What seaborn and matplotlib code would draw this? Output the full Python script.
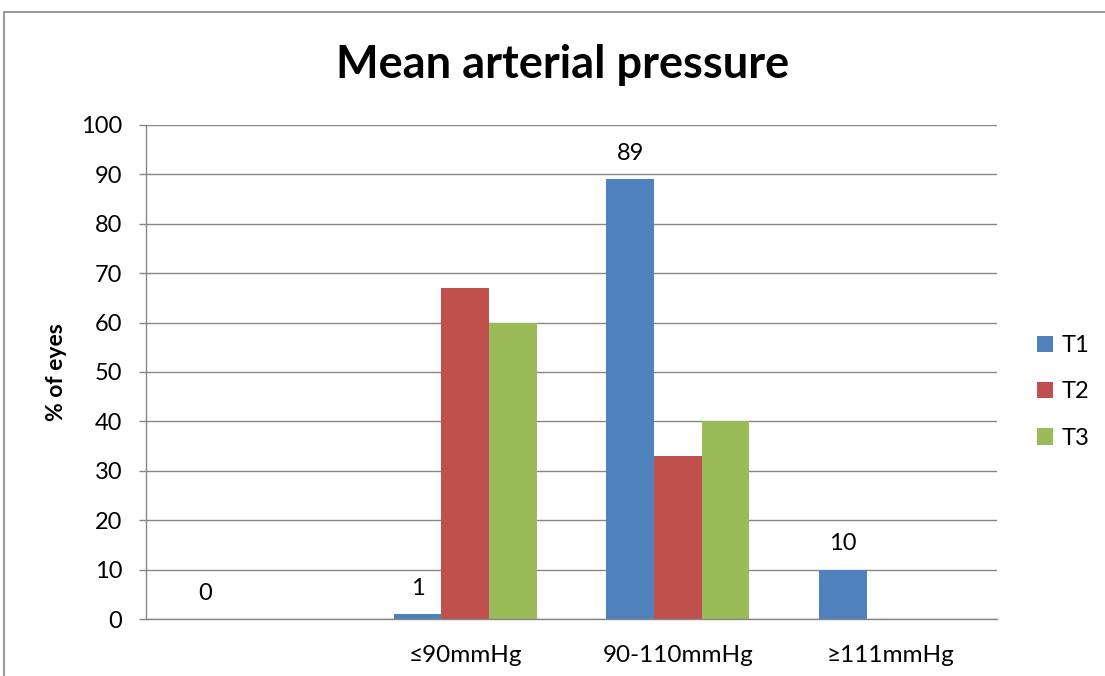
import matplotlib
matplotlib.use("Agg")
import matplotlib.pyplot as plt
import seaborn as sns
import pandas as pd
from matplotlib.patches import Rectangle

categories = ["", "≤90mmHg", "90-110mmHg", "≥111mmHg"]
series_names = ["T1", "T2", "T3"]
t1 = [0, 1, 89, 10]
t2 = [0, 67, 33, 0]
t3 = [0, 60, 40, 0]
colors = ["#4F81BD", "#C0504D", "#9BBB59"]
yticks = [0, 10, 20, 30, 40, 50, 60, 70, 80, 90, 100]

sns.set_style("white")
plt.rcParams["font.family"] = ["Lato", "DejaVu Sans"]
plt.rcParams["text.color"] = "black"
plt.rcParams["xtick.color"] = "black"
plt.rcParams["ytick.color"] = "black"
plt.rcParams["axes.labelcolor"] = "black"

rows = []
for name, vals in zip(series_names, [t1, t2, t3]):
    for c, v in zip(categories, vals):
        rows.append({"cat": c, "series": name, "value": v})
df = pd.DataFrame(rows)

fig = plt.figure(figsize=(11.05, 6.76), dpi=100)
ax = fig.add_axes([146/1105, 1-619/676, (997-146)/1105, (619-125)/676])

sns.barplot(data=df, x="cat", y="value", hue="series", order=categories,
            hue_order=series_names, palette=colors, width=0.672,
            saturation=1, ax=ax, errorbar=None, legend=True, linewidth=0, zorder=3)

ax.set_ylim(0, 100)
ax.set_xlim(-0.5, 3.5)
ax.set_yticks(yticks)
ax.set_yticklabels([str(v) for v in yticks], fontsize=17)
ax.grid(axis="y", color="#868686", linewidth=1, zorder=0)
ax.set_axisbelow(True)
for s in ["top", "right"]:
    ax.spines[s].set_visible(False)
for s in ["left", "bottom"]:
    ax.spines[s].set_color("#868686")
    ax.spines[s].set_linewidth(1)
    ax.spines[s].set_zorder(4)

ax.set_xticks(range(len(categories)))
ax.set_xticklabels(categories, fontsize=17.5)
ax.set_xticks([-0.5, 0.5, 1.5, 2.5, 3.5], minor=True)
ax.tick_params(axis="x", which="major", length=0, pad=19)
ax.tick_params(axis="x", which="minor", length=5, color="#868686", width=1, direction="out")
ax.tick_params(axis="y", length=5, color="#868686", width=1, direction="out", pad=12, left=True,
               labelcolor="black")

ax.set_xlabel("")
ax.set_ylabel("% of eyes", fontsize=16.5, fontweight="bold", labelpad=10)

ax.bar_label(ax.containers[0], labels=[str(v) for v in t1], padding=11, fontsize=17)

ax.legend(loc="center left", bbox_to_anchor=(1037/1105, 1-392/676),
          bbox_transform=fig.transFigure, frameon=False, fontsize=17,
          handlelength=0.68, handleheight=0.68, handletextpad=0.35, labelspacing=1.07,
          borderpad=0, borderaxespad=0)

fig.text(563/1105, 1-65/676, "Mean arterial pressure", ha="center", va="center",
         fontsize=32.5, fontweight="bold", color="black")

fig.patches.append(Rectangle((4/1105, -0.5), 2, 0.5 + 1 - 12/676, transform=fig.transFigure,
                             fill=False, edgecolor="#868686", linewidth=1.2, clip_on=False))

fig.savefig("out.png", dpi=100)
